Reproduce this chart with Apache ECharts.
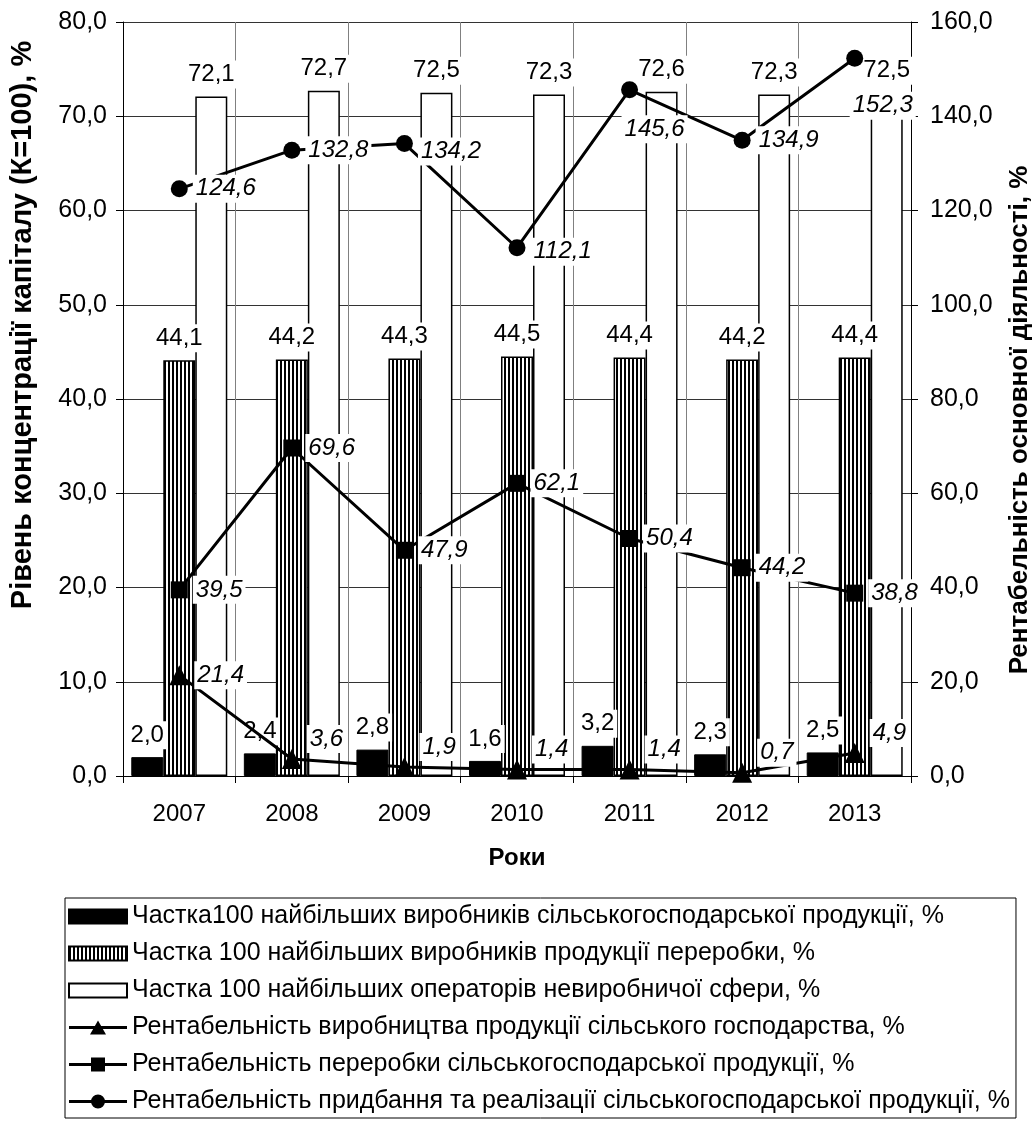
<!DOCTYPE html>
<html>
<head>
<meta charset="utf-8">
<script src="https://cdn.jsdelivr.net/npm/echarts@6/dist/echarts.min.js"></script>
<style>
html,body{margin:0;padding:0;background:#fff;}
#chart{width:1032px;height:1130px;}
</style>
</head>
<body>
<div id="chart"></div>
<script>
const years = ['2007','2008','2009','2010','2011','2012','2013'];
const agroShare = [2.0, 2.4, 2.8, 1.6, 3.2, 2.3, 2.5];
const processShare = [44.1, 44.2, 44.3, 44.5, 44.4, 44.2, 44.4];
const nonprodShare = [72.1, 72.7, 72.5, 72.3, 72.6, 72.3, 72.5];
const agroProfit = [21.4, 3.6, 1.9, 1.4, 1.4, 0.7, 4.9];
const processProfit = [39.5, 69.6, 47.9, 62.1, 50.4, 44.2, 38.8];
const tradeProfit = [124.6, 132.8, 134.2, 112.1, 145.6, 134.9, 152.3];
const leftTicks = {min: 0, max: 80, interval: 10};
const rightTicks = {min: 0, max: 160, interval: 20};

const names = [
  'Частка100 найбільших виробників сільськогосподарської продукції, %',
  'Частка 100 найбільших виробників продукції переробки, %',
  'Частка 100 найбільших операторів невиробничої сфери, %',
  'Рентабельність виробництва продукції сільського господарства, %',
  'Рентабельність переробки сільськогосподарської продукції, %',
  'Рентабельність придбання та реалізації сільськогосподарської продукції, %'
];
const leftTitle = 'Рівень концентрації капіталу (К=100), %';
const rightTitle = 'Рентабельність основної діяльності, %';
const xTitle = 'Роки';

const FONT = '"Liberation Sans", Arial, sans-serif';
const fmt = v => Number(v).toFixed(1).replace('.', ',');

// vertical stripe pattern
const pc = document.createElement('canvas');
pc.width = 4; pc.height = 4;
const pctx = pc.getContext('2d');
pctx.fillStyle = '#fff'; pctx.fillRect(0,0,4,4);
pctx.fillStyle = '#000'; pctx.fillRect(0,0,2,4);

// legend icons: line + marker
const LINE = 'M0,5.5H58V8.5H0Z ';
const iconTri = 'path://' + LINE + 'M29,0L37,14L21,14Z';
const iconSq = 'path://' + LINE + 'M22,0H36V14H22Z';
const iconCirc = 'path://' + LINE + 'M36,7A7,7 0 1,1 22,7A7,7 0 1,1 36,7Z';

const barLabel = {
  show: true, position: 'top', distance: 8,
  formatter: p => fmt(p.value),
  color: '#000', fontFamily: FONT, fontSize: 24,
  backgroundColor: '#fff', padding: [2, 3]
};
const lineLabelBase = {
  show: true, position: 'right', distance: 5,
  formatter: p => fmt(p.value),
  color: '#000', fontFamily: FONT, fontSize: 24, fontStyle: 'italic',
  backgroundColor: '#fff', padding: [2, 3]
};

function withLabels(values, opts) {
  return values.map((v, i) => {
    const o = {value: v};
    if (opts[i]) o.label = opts[i];
    return o;
  });
}

const triData = withLabels(agroProfit, [null,
  {offset: [0, -20]}, {offset: [0, -20]}, {offset: [0, -20]},
  {offset: [0, -20]}, {offset: [0, -20]}, {offset: [0, -20]}]);
const sqData = withLabels(processProfit, []);
const circData = withLabels(tradeProfit, [null, null, {offset: [0, 8]}, {offset: [0, 4]},
  {position: 'bottom', offset: [25, 12]}, null,
  {position: 'bottom', offset: [28, 20]}]);

const chart = echarts.init(document.getElementById('chart'), null, {renderer: 'canvas'});
chart.setOption({
  backgroundColor: '#fff',
  animation: false,
  textStyle: {fontFamily: FONT, color: '#000'},
  grid: {left: 123, right: 121, top: 22, bottom: 354},
  graphic: [
    {type: 'text', x: 23, y: 325, rotation: Math.PI / 2,
     style: {text: leftTitle, fontFamily: FONT, fontSize: 29, fontWeight: 'bold', fill: '#000',
             align: 'center', verticalAlign: 'middle'}},
    {type: 'text', x: 1020, y: 420, rotation: Math.PI / 2,
     style: {text: rightTitle, fontFamily: FONT, fontSize: 26, fontWeight: 'bold', fill: '#000',
             align: 'center', verticalAlign: 'middle'}}
  ],
  legend: {
    orient: 'vertical', left: 65, top: 898,
    padding: [6, 6, 4, 3],
    borderColor: '#000', borderWidth: 1,
    itemWidth: 58, itemHeight: 14, itemGap: 12,
    symbolKeepAspect: false,
    textStyle: {fontFamily: FONT, fontSize: 25, color: '#000'},
    data: [
      {name: names[0], icon: 'rect'},
      {name: names[1], icon: 'rect'},
      {name: names[2], icon: 'rect'},
      {name: names[3], icon: iconTri},
      {name: names[4], icon: iconSq},
      {name: names[5], icon: iconCirc}
    ]
  },
  xAxis: {
    type: 'category', data: years,
    name: xTitle, nameLocation: 'middle', nameGap: 70,
    nameTextStyle: {fontFamily: FONT, fontSize: 24, fontWeight: 'bold', color: '#000'},
    axisLine: {lineStyle: {color: '#000', width: 1}},
    axisTick: {show: true, length: 7, lineStyle: {color: '#000'}},
    axisLabel: {fontFamily: FONT, fontSize: 24, color: '#000', margin: 26},
    splitLine: {show: true, lineStyle: {color: '#808080', width: 1}}
  },
  yAxis: [
    {
      type: 'value', min: leftTicks.min, max: leftTicks.max, interval: leftTicks.interval,
      axisLine: {show: true, lineStyle: {color: '#000', width: 1}},
      axisTick: {show: true, length: 7, lineStyle: {color: '#000'}},
      axisLabel: {fontFamily: FONT, fontSize: 25, color: '#000', margin: 16, formatter: fmt},
      splitLine: {show: true, lineStyle: {color: '#333', width: 1}}
    },
    {
      type: 'value', min: rightTicks.min, max: rightTicks.max, interval: rightTicks.interval,
      axisLine: {show: true, lineStyle: {color: '#000', width: 1}},
      axisTick: {show: true, length: 7, lineStyle: {color: '#000'}},
      axisLabel: {fontFamily: FONT, fontSize: 25, color: '#000', margin: 19, formatter: fmt},
      splitLine: {show: false}
    }
  ],
  series: [
    {
      name: names[0], type: 'bar', yAxisIndex: 0, data: agroShare,
      barWidth: 32, barGap: '0%',
      itemStyle: {color: '#000', borderColor: '#000', borderWidth: 1},
      label: barLabel
    },
    {
      name: names[1], type: 'bar', yAxisIndex: 0, data: processShare,
      barWidth: 32, barGap: '0%',
      itemStyle: {color: {image: pc, repeat: 'repeat'}, borderColor: '#000', borderWidth: 1.5},
      label: barLabel
    },
    {
      name: names[2], type: 'bar', yAxisIndex: 0, data: nonprodShare,
      barWidth: 32, barGap: '0%',
      itemStyle: {color: '#fff', borderColor: '#000', borderWidth: 1.5},
      label: barLabel
    },
    {
      name: names[3], type: 'line', yAxisIndex: 1, data: triData,
      symbol: 'triangle', symbolSize: 20,
      lineStyle: {color: '#000', width: 3}, itemStyle: {color: '#000'},
      label: lineLabelBase, z: 5
    },
    {
      name: names[4], type: 'line', yAxisIndex: 1, data: sqData,
      symbol: 'rect', symbolSize: 17,
      lineStyle: {color: '#000', width: 3}, itemStyle: {color: '#000'},
      label: lineLabelBase, z: 5
    },
    {
      name: names[5], type: 'line', yAxisIndex: 1, data: circData,
      symbol: 'circle', symbolSize: 17,
      lineStyle: {color: '#000', width: 3}, itemStyle: {color: '#000'},
      label: lineLabelBase, z: 5
    }
  ]
});
</script>
</body>
</html>
